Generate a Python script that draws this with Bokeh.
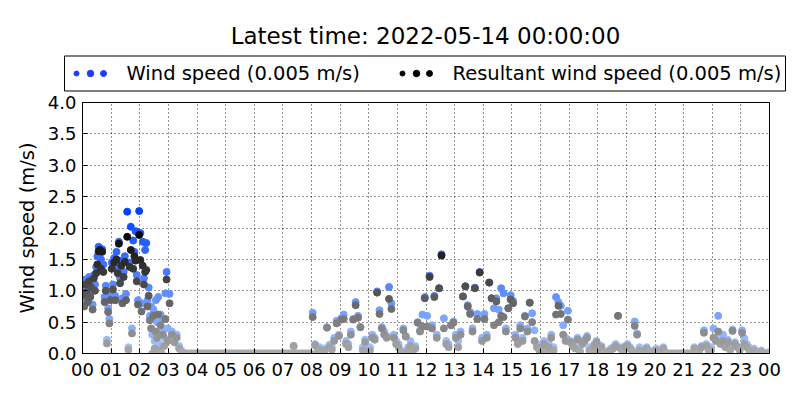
from bokeh.plotting import figure
from bokeh.models import (Range1d, FixedTicker, LinearColorMapper,
                          ColumnDataSource, NumeralTickFormatter)
from bokeh.layouts import column
from bokeh.embed import file_html
from bokeh.resources import INLINE
from bokeh.core.properties import value

# ---------------- data ----------------
title_text = "Latest time: 2022-05-14 00:00:00"
legend_labels = ["Wind speed (0.005 m/s)", "Resultant wind speed (0.005 m/s)"]
y_label = "Wind speed (m/s)"
hour_ticks = list(range(25))
hour_labels = ["00", "01", "02", "03", "04", "05", "06", "07", "08", "09", "10", "11",
               "12", "13", "14", "15", "16", "17", "18", "19", "20", "21", "22", "23", "00"]
y_ticks = [0.0, 0.5, 1.0, 1.5, 2.0, 2.5, 3.0, 3.5, 4.0]

# wind speed samples, one list per hour (samples evenly spread within the hour)
wind_by_hour = [
    [1.00, 0.80, 1.18, 1.05, 0.88, 1.22, 0.95, 1.12, 0.78, 1.25, 1.10, 1.38,
     1.55, 1.70, 1.68, 1.50, 1.66, 1.42, 0.90, 1.08, 0.22, 0.72, 0.55, 0.92],
    [1.45, 1.10, 1.52, 0.92, 1.62, 1.35, 1.78, 1.20, 1.48, 0.88, 1.30, 1.55,
     0.95, 2.26, 0.10, 1.45, 2.02, 0.40, 1.80, 1.62, 1.95, 1.25, 0.85, 2.27],
    [1.92, 0.80, 1.78, 1.20, 1.65, 1.76, 0.85, 1.05, 0.60, 0.75, 0.30, 0.70,
     0.20, 0.85, 0.50, 0.90, 0.15, 0.62, 0.35, 0.55, 0.25, 0.96, 1.30, 0.40],
    [0.95, 0.35, 0.28, 0.30, 0.12, 0.05, 0.00, 0.00, 0.00, 0.00, 0.00, 0.00],
    [0.00, 0.00, 0.00, 0.00, 0.00, 0.00, 0.00, 0.00, 0.00, 0.00, 0.00, 0.00],
    [0.00, 0.00, 0.00, 0.00, 0.00, 0.00, 0.00, 0.00, 0.00, 0.00, 0.00, 0.00],
    [0.00, 0.00, 0.00, 0.00, 0.00, 0.00, 0.00, 0.00, 0.00, 0.00, 0.00, 0.00],
    [0.00, 0.00, 0.00, 0.00, 0.12, 0.00, 0.00, 0.00, 0.00, 0.00, 0.00, 0.00],
    [0.65, 0.15, 0.05, 0.10, 0.03, 0.08, 0.42, 0.14, 0.10, 0.25, 0.52, 0.30],
    [0.56, 0.62, 0.20, 0.15, 0.35, 0.55, 0.82, 0.60, 0.42, 0.10, 0.22, 0.08],
    [0.10, 0.30, 0.25, 0.99, 0.69, 0.42, 0.35, 0.28, 1.06, 0.80, 0.30, 0.20],
    [0.15, 0.05, 0.40, 0.28, 0.10, 0.20, 0.05, 0.12, 0.50, 0.37, 0.62, 0.90],
    [0.60, 1.24, 0.45, 0.92, 0.30, 1.04, 1.58, 0.56, 0.20, 0.15, 0.45, 0.51],
    [0.30, 0.20, 0.35, 0.91, 1.07, 0.77, 0.66, 0.40, 1.05, 0.63, 1.30, 0.25],
    [0.63, 0.30, 1.13, 0.88, 0.72, 0.88, 0.70, 1.04, 0.96, 0.40, 0.72, 0.93],
    [0.84, 0.30, 0.20, 0.45, 0.25, 0.60, 0.40, 0.81, 0.64, 0.37, 0.15, 0.10],
    [0.10, 0.20, 0.05, 0.15, 0.30, 0.10, 0.90, 0.82, 0.76, 0.45, 0.25, 0.68],
    [0.20, 0.15, 0.10, 0.25, 0.05, 0.18, 0.22, 0.28, 0.10, 0.05, 0.15, 0.20],
    [0.05, 0.12, 0.02, 0.00, 0.05, 0.08, 0.10, 0.15, 0.60, 0.10, 0.05, 0.12],
    [0.15, 0.10, 0.05, 0.51, 0.32, 0.10, 0.05, 0.02, 0.10, 0.05, 0.00, 0.05],
    [0.08, 0.00, 0.05, 0.10, 0.02, 0.00, 0.00, 0.00, 0.00, 0.00, 0.00, 0.00],
    [0.00, 0.00, 0.00, 0.00, 0.10, 0.00, 0.05, 0.12, 0.37, 0.15, 0.05, 0.10],
    [0.40, 0.25, 0.60, 0.20, 0.30, 0.15, 0.22, 0.10, 0.38, 0.18, 0.12, 0.08],
    [0.37, 0.24, 0.15, 0.10, 0.05, 0.08, 0.02, 0.00, 0.05, 0.00, 0.00, 0.02],
]

# resultant wind speed samples, same sampling
resultant_by_hour = [
    [0.92, 0.75, 1.10, 0.98, 0.82, 1.15, 0.90, 1.05, 0.70, 1.20, 1.00, 1.28,
     1.42, 1.63, 1.65, 1.35, 1.62, 1.30, 0.82, 1.00, 0.16, 0.66, 0.48, 0.85],
    [1.35, 1.02, 1.45, 0.85, 1.50, 1.28, 1.75, 1.12, 1.40, 0.80, 1.22, 1.46,
     0.85, 1.86, 0.06, 1.38, 1.65, 0.32, 1.35, 1.55, 1.48, 1.15, 0.78, 1.89],
    [1.49, 0.67, 1.40, 1.10, 1.30, 1.33, 0.75, 0.92, 0.53, 0.40, 0.00, 0.60,
     0.08, 0.35, 0.25, 0.62, 0.05, 0.45, 0.00, 0.30, 0.12, 0.55, 1.18, 0.20],
    [0.80, 0.30, 0.18, 0.25, 0.08, 0.02, 0.00, 0.00, 0.00, 0.00, 0.00, 0.00],
    [0.00, 0.00, 0.00, 0.00, 0.00, 0.00, 0.00, 0.00, 0.00, 0.00, 0.00, 0.00],
    [0.00, 0.00, 0.00, 0.00, 0.00, 0.00, 0.00, 0.00, 0.00, 0.00, 0.00, 0.00],
    [0.00, 0.00, 0.00, 0.00, 0.00, 0.00, 0.00, 0.00, 0.00, 0.00, 0.00, 0.00],
    [0.00, 0.00, 0.00, 0.00, 0.12, 0.00, 0.00, 0.00, 0.00, 0.00, 0.00, 0.00],
    [0.58, 0.13, 0.02, 0.06, 0.00, 0.05, 0.41, 0.10, 0.06, 0.20, 0.48, 0.28],
    [0.54, 0.55, 0.15, 0.10, 0.30, 0.54, 0.77, 0.57, 0.42, 0.05, 0.18, 0.03],
    [0.05, 0.25, 0.22, 0.97, 0.63, 0.40, 0.30, 0.25, 0.87, 0.71, 0.25, 0.15],
    [0.10, 0.02, 0.37, 0.27, 0.05, 0.12, 0.03, 0.08, 0.49, 0.35, 0.43, 0.88],
    [0.43, 1.22, 0.40, 0.90, 0.25, 1.04, 1.56, 0.40, 0.15, 0.10, 0.45, 0.49],
    [0.25, 0.10, 0.30, 0.91, 1.07, 0.75, 0.63, 0.35, 1.04, 0.55, 1.29, 0.20],
    [0.55, 0.25, 1.13, 0.88, 0.45, 0.83, 0.50, 0.60, 0.58, 0.35, 0.72, 0.86],
    [0.80, 0.25, 0.15, 0.40, 0.20, 0.59, 0.35, 0.81, 0.50, 0.20, 0.10, 0.05],
    [0.05, 0.15, 0.02, 0.10, 0.25, 0.05, 0.62, 0.76, 0.63, 0.30, 0.20, 0.54],
    [0.18, 0.12, 0.08, 0.22, 0.03, 0.15, 0.20, 0.25, 0.05, 0.02, 0.12, 0.18],
    [0.03, 0.10, 0.00, 0.00, 0.03, 0.05, 0.08, 0.12, 0.60, 0.08, 0.02, 0.10],
    [0.12, 0.08, 0.03, 0.44, 0.30, 0.05, 0.03, 0.00, 0.08, 0.03, 0.00, 0.03],
    [0.05, 0.00, 0.03, 0.08, 0.00, 0.00, 0.00, 0.00, 0.00, 0.00, 0.00, 0.00],
    [0.00, 0.00, 0.00, 0.00, 0.08, 0.00, 0.03, 0.10, 0.33, 0.12, 0.03, 0.05],
    [0.25, 0.20, 0.35, 0.15, 0.20, 0.10, 0.18, 0.05, 0.36, 0.15, 0.10, 0.05],
    [0.33, 0.15, 0.10, 0.05, 0.03, 0.05, 0.00, 0.00, 0.03, 0.00, 0.00, 0.00],
]

# ---------------- build sources ----------------
times, wind, resultant = [], [], []
for h, (wl, rl) in enumerate(zip(wind_by_hour, resultant_by_hour)):
    n = len(wl)
    for i in range(n):
        times.append(h + (i + 0.5) / n)
        wind.append(wl[i])
        resultant.append(rl[i])

src = ColumnDataSource(dict(t=times, w=wind, r=resultant))


def ramp(c0, c1, n=256):
    return ["#%02x%02x%02x" % tuple(int(round(a + (b - a) * k / (n - 1))) for a, b in zip(c0, c1))
            for k in range(n)]


blue_mapper = LinearColorMapper(palette=ramp((165, 198, 255), (0, 64, 255)), low=0.0, high=2.3)
gray_mapper = LinearColorMapper(palette=ramp((170, 170, 170), (0, 0, 0)), low=0.0, high=1.95)

FONT = "DejaVu Sans"
W = 792

# ---------------- header (title + legend), coordinates in page pixels ----------------
top = figure(width=W, height=92, x_range=Range1d(0, W), y_range=Range1d(92, 0),
             x_axis_type=None, y_axis_type=None, toolbar_location=None,
             output_backend="svg", min_border=0, outline_line_color=None)
top.frame_align = False
top.grid.visible = False
top.text(x=[425], y=[35], text=[title_text], text_font=value(FONT), text_font_size="23px",
         text_align="center", text_baseline="middle", text_color="black")
top.quad(left=[64], right=[785], top=[55.5], bottom=[90.5], fill_color=None,
         line_color="black", line_width=1)
top.scatter(x=[76, 90, 103], y=[73, 73, 73], size=[5, 6.5, 6], color="#1f3bff")
top.scatter(x=[402, 416, 429], y=[73, 73, 73], size=[5, 6.5, 6], color="black")
top.text(x=[126, 452], y=[72.5, 72.5], text=legend_labels, text_font=value(FONT),
         text_font_size="19.5px", text_align="left", text_baseline="middle",
         text_color="black")

# ---------------- main plot ----------------
p = figure(frame_width=687, frame_height=251, x_range=Range1d(0, 24), y_range=Range1d(0, 4),
           toolbar_location=None, output_backend="svg",
           min_border_left=82, min_border_right=W - 82 - 687, min_border_top=10,
           min_border_bottom=39)
p.frame_align = False
p.outline_line_color = "black"
p.outline_line_width = 1

p.xaxis.ticker = FixedTicker(ticks=hour_ticks)
p.xaxis.major_label_overrides = {t: lab for t, lab in zip(hour_ticks, hour_labels)}
p.yaxis.ticker = FixedTicker(ticks=y_ticks)
p.yaxis.formatter = NumeralTickFormatter(format="0.0")
p.yaxis.axis_label = y_label

for ax in (p.xaxis[0], p.yaxis[0]):
    ax.major_label_text_font = FONT
    ax.major_label_text_font_size = "18px"
    ax.major_label_text_color = "black"
    ax.major_tick_in = 5
    ax.major_tick_out = 0
    ax.minor_tick_in = 0
    ax.minor_tick_out = 0
    ax.axis_line_color = "black"
    ax.major_tick_line_color = "black"
p.xaxis.major_label_standoff = 9
p.yaxis.major_label_standoff = 6
p.yaxis.axis_label_text_font = FONT
p.yaxis.axis_label_text_font_size = "19.5px"
p.yaxis.axis_label_text_font_style = "normal"
p.yaxis.axis_label_text_color = "black"
p.yaxis.axis_label_standoff = 6

p.xgrid.ticker = FixedTicker(ticks=hour_ticks)
p.ygrid.ticker = FixedTicker(ticks=y_ticks)
p.grid.grid_line_color = "black"
p.grid.grid_line_dash = "1 3"
p.grid.grid_line_width = 1
p.grid.grid_line_alpha = 0.85

p.scatter("t", "w", source=src, size=7,
          fill_color=dict(field="w", transform=blue_mapper),
          line_color=dict(field="w", transform=blue_mapper))
p.scatter("t", "r", source=src, size=7,
          fill_color=dict(field="r", transform=gray_mapper),
          line_color=dict(field="r", transform=gray_mapper))

layout = column(top, p)
open("out.html", "w").write(file_html(layout, INLINE))
